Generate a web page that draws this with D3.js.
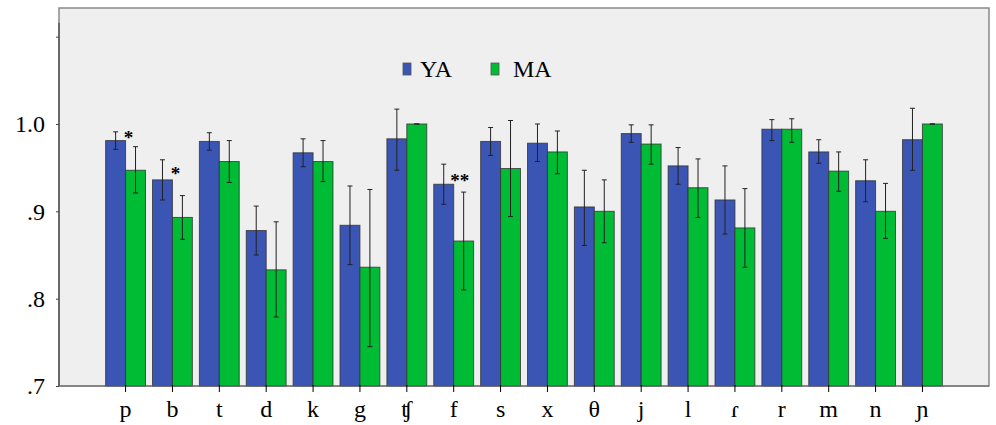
<!DOCTYPE html>
<html>

<head>
	<meta charset="utf-8">
	<script src="https://cdn.jsdelivr.net/npm/d3@7"></script>
	<style>
		body {
			margin: 0;
			background: #fff;
		}
	</style>
</head>

<body>
	<svg></svg>
	<script>
		// data
		var categories = ["p", "b", "t", "d", "k", "g", "ʧ", "f", "s", "x", "θ", "j", "l", "ɾ", "r", "m", "n", "ɲ"];
		var groups = ["YA", "MA"];

		var ya = [0.981, 0.936, 0.980, 0.878, 0.967, 0.884, 0.983, 0.931, 0.980, 0.978, 0.905, 0.989, 0.952, 0.913, 0.994, 0.968, 0.935, 0.982];
		var yaLow = [0.971, 0.913, 0.970, 0.850, 0.951, 0.839, 0.947, 0.908, 0.964, 0.957, 0.861, 0.979, 0.931, 0.874, 0.981, 0.955, 0.911, 0.947];
		var yaHigh = [0.991, 0.959, 0.990, 0.906, 0.983, 0.929, 1.017, 0.954, 0.996, 1.000, 0.947, 0.999, 0.973, 0.952, 1.005, 0.982, 0.959, 1.018];

		var ma = [0.947, 0.893, 0.957, 0.833, 0.957, 0.836, 1.000, 0.866, 0.949, 0.968, 0.900, 0.977, 0.927, 0.881, 0.994, 0.946, 0.900, 1.000];
		var maLow = [0.921, 0.868, 0.933, 0.779, 0.934, 0.745, 1.000, 0.810, 0.894, 0.943, 0.864, 0.954, 0.893, 0.836, 0.979, 0.923, 0.869, 1.000];
		var maHigh = [0.974, 0.918, 0.981, 0.888, 0.981, 0.925, 1.000, 0.922, 1.004, 0.992, 0.936, 0.999, 0.960, 0.926, 1.006, 0.968, 0.932, 1.000];

		var yTicks = [0.7, 0.8, 0.9, 1.0, 1.1];
		var yTickLabels = [".7", ".8", ".9", "1.0", ""];

		var marks = [
			{ cat: "p", text: "*", level: 0.990 },
			{ cat: "b", text: "*", level: 0.948 },
			{ cat: "f", text: "**", level: 0.940 }
		];

		var colors = { "YA": "#3a55b4", "MA": "#00bb34" };
		var serif = "'Liberation Serif', 'Times New Roman', serif";

		var width = 996, height = 425;
		var plot = { left: 59, right: 989, top: 8, bottom: 386 };

		var svg = d3.select("svg")
			.attr("width", width)
			.attr("height", height)
			.attr("font-family", serif);

		// plot background
		svg.append("rect")
			.attr("x", plot.left)
			.attr("y", plot.top)
			.attr("width", plot.right - plot.left)
			.attr("height", plot.bottom - plot.top)
			.attr("fill", "#efefef")
			.attr("stroke", "#8a8a8a")
			.attr("stroke-width", 1.5);

		var x = d3.scaleBand()
			.domain(categories)
			.range([plot.left, plot.right])
			.paddingInner(0.15)
			.paddingOuter(0.995);

		var x1 = d3.scaleBand()
			.domain(groups)
			.range([0, x.bandwidth()]);

		var y = d3.scaleLinear()
			.domain([0.7, 1.1328])
			.range([plot.bottom, plot.top]);

		var rows = [];
		categories.forEach(function (c, i) {
			rows.push({ cat: c, g: "YA", v: ya[i], lo: yaLow[i], hi: yaHigh[i] });
			rows.push({ cat: c, g: "MA", v: ma[i], lo: maLow[i], hi: maHigh[i] });
		});

		var bars = svg.append("g").selectAll("g")
			.data(rows)
			.enter()
			.append("g")
			.attr("transform", d => "translate(" + (x(d.cat) + x1(d.g)) + ",0)");

		bars.append("rect")
			.attr("y", d => y(d.v))
			.attr("width", x1.bandwidth())
			.attr("height", d => y(0.7) - y(d.v))
			.attr("fill", d => colors[d.g])
			.attr("stroke", "#333")
			.attr("stroke-opacity", 0.8)
			.attr("stroke-width", 1);

		// error bars
		var cx = x1.bandwidth() / 2;
		bars.append("line")
			.attr("x1", cx).attr("x2", cx)
			.attr("y1", d => y(d.lo))
			.attr("y2", d => y(d.hi))
			.attr("stroke", "#222")
			.attr("stroke-width", 1);
		bars.append("line")
			.attr("x1", cx - 2.5).attr("x2", cx + 2.5)
			.attr("y1", d => y(d.hi)).attr("y2", d => y(d.hi))
			.attr("stroke", "#222");
		bars.append("line")
			.attr("x1", cx - 2.5).attr("x2", cx + 2.5)
			.attr("y1", d => y(d.lo)).attr("y2", d => y(d.lo))
			.attr("stroke", "#222");

		// x axis
		var xAxis = svg.append("g")
			.attr("transform", "translate(0," + plot.bottom + ")")
			.call(d3.axisBottom(x).tickSize(6).tickPadding(8))
			.attr("font-family", serif)
			.attr("font-size", 24);
		xAxis.select(".domain").attr("stroke", "#666").attr("d", "M" + plot.left + ",0H" + plot.right);
		xAxis.selectAll(".tick line").attr("stroke", "#000").attr("y1", -1);
		xAxis.selectAll(".tick text").attr("fill", "#000");

		// y axis
		var yAxis = svg.append("g")
			.attr("transform", "translate(" + plot.left + ",0)")
			.call(d3.axisLeft(y)
				.tickValues(yTicks)
				.tickFormat((d, i) => yTickLabels[i])
				.tickSize(3)
				.tickPadding(11))
			.attr("font-family", serif)
			.attr("font-size", 24);
		yAxis.select(".domain")
			.attr("stroke", "#555")
			.attr("stroke-width", 1.5)
			.attr("d", "M0," + y(1.116) + "V" + plot.bottom);
		yAxis.selectAll(".tick line").attr("stroke", "#444");
		yAxis.selectAll(".tick text").attr("fill", "#000");

		// significance marks
		svg.append("g").selectAll("text")
			.data(marks)
			.enter()
			.append("text")
			.attr("x", d => x(d.cat) + x.bandwidth() / 2 + (d.text.length > 1 ? 6 : 3))
			.attr("y", d => y(d.level) + 11)
			.attr("text-anchor", "middle")
			.attr("font-size", 19)
			.attr("font-weight", "bold")
			.text(d => d.text);

		// legend
		var legend = svg.append("g").selectAll("g")
			.data(groups)
			.enter()
			.append("g")
			.attr("transform", (d, i) => "translate(" + (403 + i * 88) + ",63)");
		legend.append("rect")
			.attr("width", 8)
			.attr("height", 12)
			.attr("fill", d => colors[d])
			.attr("stroke", "#555")
			.attr("stroke-width", 0.8);
		legend.append("text")
			.attr("x", (d, i) => i === 0 ? 17 : 22)
			.attr("y", 14)
			.attr("font-size", 24)
			.text(d => d);
	</script>
</body>

</html>
